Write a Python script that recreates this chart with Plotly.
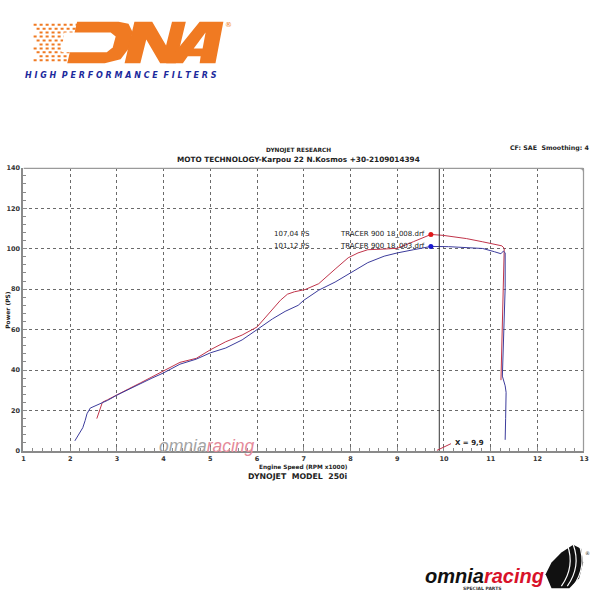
import plotly.graph_objects as go

# ---------------- data ----------------
red_rpm = [2.57, 2.63, 2.69, 2.8, 3.0, 3.25, 3.5, 3.75, 4.0, 4.35, 4.7, 5.0, 5.33, 5.68, 6.0, 6.25, 6.5,
           6.65, 6.8, 7.03, 7.32, 7.67, 7.95, 8.16, 8.37, 8.7, 9.0, 9.35, 9.72, 9.98, 10.48, 10.83, 11.11,
           11.24, 11.29, 11.28, 11.26, 11.24, 11.22]
red_ps = [16, 20, 24.1, 25.3, 27.8, 30.7, 33.6, 36.6, 39.8, 43.8, 45.8, 50, 54, 57.3, 61.3, 68, 74.5,
          77.5, 78.7, 79.8, 82.7, 89.9, 95.5, 97.9, 99.5, 99.8, 100.2, 103.5, 107.04, 106.6, 105, 103.4, 102.1,
          101.4, 100.2, 89, 64.6, 45, 35]

blue_rpm = [2.1, 2.2, 2.27, 2.32, 2.36, 2.43, 2.55, 2.66, 2.8, 3.0, 3.25, 3.5, 3.75, 4.0, 4.35, 4.7, 5.0,
            5.33, 5.68, 6.0, 6.33, 6.6, 6.88, 7.0, 7.32, 7.67, 7.95, 8.37, 8.72, 9.0, 9.35, 9.72, 10.1,
            10.48, 10.83, 11.08, 11.22, 11.27, 11.31, 11.31, 11.29, 11.27, 11.25, 11.31, 11.33, 11.32, 11.31]
blue_ps = [5, 8.5, 11.5, 15, 18.4, 21.2, 22.5, 23.6, 25, 27.6, 30.5, 33.2, 36, 38.6, 42.9, 45.4, 48.5,
           50.9, 54.9, 60, 65.3, 69, 72, 74.5, 79.5, 83.5, 87.5, 93.1, 96.3, 97.9, 99.5, 101.12, 101,
           100.7, 100.1, 98.5, 97.5, 98.8, 98, 80.7, 64.6, 48.4, 37, 32.2, 29, 16, 5.5]

run_names = ["TRACER 900 18_008.drf", "TRACER 900 18_003.drf"]
peak_rpm = [9.72, 9.72]
peak_ps = [107.04, 101.12]
peak_labels = ["107,04 PS", "101,12 PS"]
cursor_rpm = 9.9
cursor_label = "X = 9,9"
x_ticks = list(range(1, 14))
y_ticks = list(range(0, 141, 20))

RED = "#c0344a"
BLUE = "#3c3c9c"
MRED = "#e01818"
MBLUE = "#1a1ad0"
FONT = "DejaVu Sans"

W = H = 600
def px(x):
    return x / W
def py(y):
    return 1 - y / H

fig = go.Figure()
fig.add_trace(go.Scatter(x=red_rpm, y=red_ps, mode="lines", line=dict(color=RED, width=1),
                         hoverinfo="skip", showlegend=False))
fig.add_trace(go.Scatter(x=blue_rpm, y=blue_ps, mode="lines", line=dict(color=BLUE, width=1),
                         hoverinfo="skip", showlegend=False))
fig.add_trace(go.Scatter(x=peak_rpm, y=peak_ps, mode="markers",
                         marker=dict(color=[MRED, MBLUE], size=5), hoverinfo="skip", showlegend=False))

ann = []
for i in range(2):
    ann.append(dict(x=6.31, y=peak_ps[i], xref="x", yref="y", text=peak_labels[i], showarrow=False,
                    xanchor="left", yanchor="middle", font=dict(family=FONT, size=7, color="#222")))
    ann.append(dict(x=peak_rpm[i] - 0.08, y=peak_ps[i], xref="x", yref="y", text=run_names[i],
                    showarrow=False, xanchor="right", yanchor="middle",
                    font=dict(family=FONT, size=7, color="#222")))

ann.append(dict(x=cursor_rpm + 0.3, y=4, xref="x", yref="y", text=cursor_label, showarrow=False,
                xanchor="left", yanchor="middle", font=dict(family=FONT, size=7, color="#222", weight="bold")))

def txt(x, y, s, size, anchor="center", bold=True, color="#222", angle=0, family=FONT, style="normal"):
    ann.append(dict(x=px(x), y=py(y), xref="paper", yref="paper", text=s, showarrow=False,
                    xanchor=anchor, yanchor="middle", textangle=angle,
                    font=dict(family=family, size=size, color=color,
                              weight="bold" if bold else "normal", style=style)))

txt(300, 148, "DYNOJET RESEARCH", 5.8)
txt(300, 158, "MOTO TECHNOLOGY-Karpou 22 N.Kosmos +30-2109014394", 7.3)
txt(596, 146, "CF: SAE\u00a0\u00a0Smoothing: 4", 6.3, anchor="right")
txt(305, 469.5, "Engine Speed (RPM x1000)", 5.8)
txt(299, 479, "DYNOJET\u00a0\u00a0MODEL\u00a0\u00a0250i", 7.8)
txt(6, 310, "Power (PS)", 6, angle=-90)

# watermark
txt(207, 448, '<span style="color:#a4a4a4">omnia</span><span style="color:#e58a9a">racing</span>', 17.5,
    bold=False, family="Liberation Sans", style="italic")

# DNA logo texts
txt(120, 72, "H\u00a0I\u00a0G\u00a0H\u00a0\u00a0P\u00a0E\u00a0R\u00a0F\u00a0O\u00a0R\u00a0M\u00a0A\u00a0N\u00a0C\u00a0E\u00a0\u00a0F\u00a0I\u00a0L\u00a0T\u00a0E\u00a0R\u00a0S",
    8, color="#1c2a9c", style="italic", family="DejaVu Sans")
txt(229, 21, "®", 7, bold=False, color="#f07a22")

# omniaracing logo bottom right
txt(488, 580, '<span style="color:#111">omnia</span><span style="color:#d8122a">racing</span>', 20,
    family="Liberation Sans", style="italic")
txt(486, 592, "SPECIAL PARTS", 4.5, color="#333")
txt(592, 556, "®", 5, bold=False, color="#333")

shapes = []
# cursor line
shapes.append(dict(type="line", xref="x", yref="y", x0=cursor_rpm, x1=cursor_rpm, y0=0, y1=140,
                   line=dict(color="#333", width=1)))
shapes.append(dict(type="line", xref="x", yref="y", x0=cursor_rpm - 0.05, y0=0.3, x1=cursor_rpm + 0.25, y1=3.6,
                   line=dict(color=RED, width=1)))
# frame top/right with rounded corner
shapes.append(dict(type="path", xref="x", yref="y", path="M 1,140 L 12.9,140 Q 13,140 13,137.8 L 13,0",
                   line=dict(color="#9a9a9a", width=2.5)))

def ppath(pts, close=True):
    s = "M " + " L ".join(f"{px(a):.4f},{py(b):.4f}" for a, b in pts)
    return s + (" Z" if close else "")

ORANGE = "#f07a22"
# speed lines of DNA logo
for k, yy in enumerate(range(21, 60, 4)):
    shapes.append(dict(type="line", xref="paper", yref="paper", x0=px(32 + (k % 3) * 3), x1=px(78),
                       y0=py(yy), y1=py(yy), line=dict(color=ORANGE, width=2, dash="dot")))
# D
shapes.append(dict(type="path", xref="paper", yref="paper",
                   path=ppath([(66, 60), (76, 18), (118, 18), (128, 20), (132, 28), (129, 44), (120, 56), (104, 60)]),
                   fillcolor=ORANGE, line=dict(width=0)))
shapes.append(dict(type="path", xref="paper", yref="paper",
                   path=ppath([(60, 49), (63, 29), (110, 29), (115, 33), (112, 44), (106, 49)]),
                   fillcolor="white", line=dict(width=0)))
# N
shapes.append(dict(type="path", xref="paper", yref="paper",
                   path=ppath([(124, 60), (134, 18), (152, 18), (166, 42), (172, 18), (186, 18), (176, 60),
                               (160, 60), (146, 36), (140, 60)]),
                   fillcolor=ORANGE, line=dict(width=0)))
# A
shapes.append(dict(type="path", xref="paper", yref="paper",
                   path=ppath([(166, 60), (200, 18), (224, 18), (216, 60), (200, 60), (201, 53),
                               (188, 53), (183, 60)]),
                   fillcolor=ORANGE, line=dict(width=0)))
shapes.append(dict(type="path", xref="paper", yref="paper",
                   path=ppath([(194, 45), (203, 45), (206, 29)]),
                   fillcolor="white", line=dict(width=0)))
# griffin (rough)
shapes.append(dict(type="path", xref="paper", yref="paper",
                   path=ppath([(556, 592), (550, 578), (556, 566), (566, 556), (578, 548), (586, 552),
                               (588, 566), (584, 582), (574, 592)]),
                   fillcolor="#111", line=dict(width=0)))
for off in (0, 6, 12):
    shapes.append(dict(type="path", xref="paper", yref="paper",
                       path=f"M {px(566+off)},{py(590)} Q {px(580+off)},{py(570)} {px(572+off)},{py(548)}",
                       line=dict(color="white", width=1.2)))

axis_common = dict(showgrid=True, gridcolor="#6a6a6a", griddash="dot", gridwidth=1,
                   showline=True, linecolor="#8a8a8a", linewidth=2, zeroline=False,
                   ticks="inside", ticklen=4, tickcolor="#8a8a8a",
                   tickfont=dict(family=FONT, size=6.5, color="#333", weight="bold"))
fig.update_layout(
    width=600, height=600, margin=dict(l=0, r=0, t=0, b=0),
    paper_bgcolor="white", plot_bgcolor="white", showlegend=False,
    xaxis=dict(range=[1, 13], domain=[px(21.7), px(589)], tickvals=x_ticks,
               minor=dict(dtick=0.2, ticks="inside", ticklen=2.5, tickcolor="#8a8a8a", showgrid=False),
               **axis_common),
    yaxis=dict(range=[0, 140], domain=[py(453), py(166)], tickvals=y_ticks,
               minor=dict(dtick=4, ticks="inside", ticklen=2.5, tickcolor="#8a8a8a", showgrid=False),
               **axis_common),
    annotations=ann, shapes=shapes,
)
fig.write_html("out.html", config={"displayModeBar": False},
               post_script="document.body.style.margin='0';document.body.style.overflow='hidden';")
